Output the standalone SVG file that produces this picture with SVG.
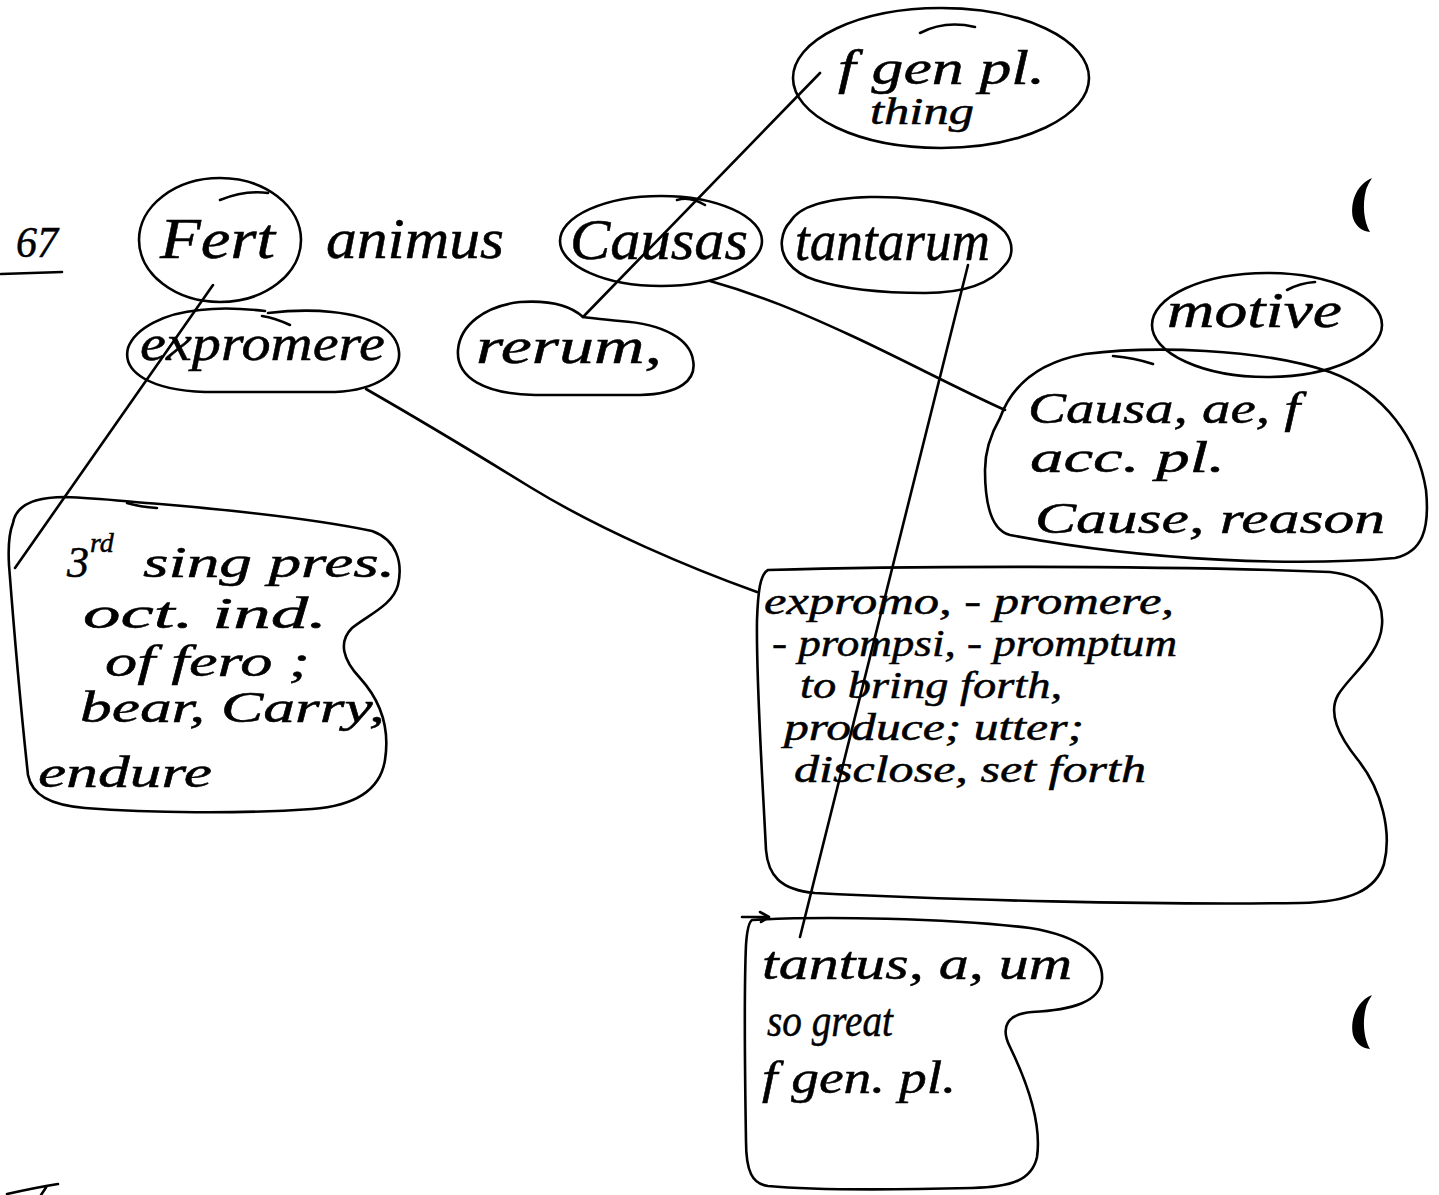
<svg xmlns="http://www.w3.org/2000/svg" width="1439" height="1195" viewBox="0 0 1439 1195">
<style>
.s{fill:none;stroke:#000;stroke-width:2.6;stroke-linecap:round;stroke-linejoin:round}
.t{font-family:"Liberation Serif","DejaVu Serif",serif;font-style:italic;fill:#000;stroke:#000;stroke-width:0.5}
.w{font-size:56px}
.b{font-size:44px}
.e{font-size:37px}
</style>
<rect width="1439" height="1195" fill="#fff"/>
<g id="connectors">
<path class="s" d="M213,285 L15,568"/>
<path class="s" d="M583,317 L820,73"/>
<path class="s" d="M710,281 C760,295 800,312 850,335 C900,358 960,390 1005,410"/>
<path class="s" d="M366,389 C420,420 470,450 530,487 C600,530 690,568 757,592"/>
<path class="s" d="M968,265 L800,937"/>
</g>
<g id="n-67">
<text class="t" x="16" y="257" font-size="44" textLength="42" lengthAdjust="spacingAndGlyphs">67</text>
<path class="s" d="M1,274 L62,272"/>
</g>
<g id="n-fert">
<ellipse class="s" cx="220" cy="240" rx="81" ry="62"/>
<path class="s" d="M220,200 Q245,190 268,193"/>
<text class="t w" x="160" y="258" textLength="115" lengthAdjust="spacingAndGlyphs">Fert</text>
</g>
<g id="n-animus">
<text class="t w" x="326" y="258" textLength="178" lengthAdjust="spacingAndGlyphs">animus</text>
</g>
<g id="n-causas">
<ellipse class="s" cx="661" cy="241" rx="101" ry="45"/>
<path class="s" d="M677,200 Q690,196 705,205"/>
<text class="t w" x="570" y="259" textLength="178" lengthAdjust="spacingAndGlyphs">Causas</text>
</g>
<g id="n-tantarum">
<path class="s" d="M790,222 C800,205 830,198 870,197 C930,196 985,210 1005,232 C1015,245 1012,258 1005,265 C990,285 960,293 925,293 C880,293 840,288 815,280 C790,272 780,255 782,240 C783,232 786,226 790,222 Z"/>
<text class="t w" x="795" y="260" textLength="195" lengthAdjust="spacingAndGlyphs">tantarum</text>
</g>
<g id="n-genpl">
<ellipse class="s" cx="941" cy="78" rx="148" ry="70"/>
<path class="s" d="M920,33 Q945,20 975,27"/>
<text class="t" x="838" y="84" font-size="48" textLength="207" lengthAdjust="spacingAndGlyphs">f gen pl.</text>
<text class="t" x="870" y="124" font-size="38" textLength="104" lengthAdjust="spacingAndGlyphs">thing</text>
</g>
<g id="n-expromere">
<path class="s" d="M265,311 C240,308 215,308 200,310 C165,313 135,328 128,348 C122,372 150,390 205,392 L335,392 C378,390 401,372 399,352 C397,330 372,316 332,312 C305,309 285,311 268,313"/>
<path class="s" d="M262,316 Q275,318 290,325"/>
<text class="t" x="140" y="360" font-size="50" textLength="245" lengthAdjust="spacingAndGlyphs">expromere</text>
</g>
<g id="n-rerum">
<path class="s" d="M583,317 C570,305 550,300 520,302 C485,306 460,325 458,350 C456,378 485,394 535,395 L640,395 C680,394 697,380 693,360 C690,340 665,324 620,321 C605,320 592,318 583,317 Z"/>
<text class="t" x="476" y="363" font-size="50" textLength="186" lengthAdjust="spacingAndGlyphs">rerum,</text>
</g>
<g id="n-motive">
<ellipse class="s" cx="1267" cy="325" rx="115" ry="52"/>
<path class="s" d="M1287,290 Q1300,283 1315,282"/>
<text class="t" x="1167" y="327" font-size="50" textLength="175" lengthAdjust="spacingAndGlyphs">motive</text>
</g>
<g id="n-causa">
<path class="s" d="M1000,418 C1012,385 1040,362 1085,354 C1150,346 1260,348 1330,372 C1385,392 1418,440 1426,490 C1430,530 1422,552 1395,558 C1300,566 1150,562 1010,535 C990,530 985,500 985,470 C985,450 992,432 1000,418 Z"/>
<path class="s" d="M1113,356 Q1135,358 1153,364"/>
<text class="t b" x="1028" y="423" textLength="272" lengthAdjust="spacingAndGlyphs">Causa, ae, f</text>
<text class="t b" x="1030" y="472" textLength="195" lengthAdjust="spacingAndGlyphs">acc. pl.</text>
<text class="t b" x="1035" y="533" textLength="350" lengthAdjust="spacingAndGlyphs">Cause, reason</text>
</g>
<g id="n-fero">
<path class="s" d="M13,523 C16,505 35,497 65,497 C100,498 130,502 160,504 C230,510 320,520 372,531 C397,540 403,563 398,585 C393,605 368,615 352,628 C338,642 343,660 360,678 C380,700 390,728 385,760 C380,792 352,806 312,809 C240,814 150,813 85,808 C50,805 32,795 28,775 C22,720 14,630 9,565 C8,547 9,533 13,523 Z"/>
<path class="s" d="M127,503 Q140,507 157,508"/>
<text class="t b" y="577"><tspan x="67">3</tspan><tspan x="90" y="552" font-size="28">rd</tspan><tspan x="143" y="577" textLength="252" lengthAdjust="spacingAndGlyphs">sing pres.</tspan></text>
<text class="t b" x="83" y="628" textLength="244" lengthAdjust="spacingAndGlyphs">oct. ind.</text>
<text class="t b" x="105" y="676" textLength="205" lengthAdjust="spacingAndGlyphs">of fero ;</text>
<text class="t b" x="80" y="722" textLength="305" lengthAdjust="spacingAndGlyphs">bear, Carry,</text>
<text class="t b" x="38" y="787" textLength="174" lengthAdjust="spacingAndGlyphs">endure</text>
</g>
<g id="n-expromo">
<path class="s" d="M768,570 C900,566 1150,565 1330,572 C1368,576 1384,598 1382,625 C1380,655 1350,675 1338,695 C1328,713 1338,735 1358,760 C1382,790 1392,832 1384,864 C1376,890 1350,902 1300,903 C1150,905 950,900 815,893 C780,890 768,875 766,850 C762,770 756,680 757,620 C758,592 760,574 768,570 Z"/>
<text class="t e" x="764" y="614" textLength="410" lengthAdjust="spacingAndGlyphs">expromo, - promere,</text>
<text class="t e" x="772" y="656" textLength="405" lengthAdjust="spacingAndGlyphs">- prompsi, - promptum</text>
<text class="t e" x="800" y="698" textLength="262" lengthAdjust="spacingAndGlyphs">to bring forth,</text>
<text class="t e" x="784" y="740" textLength="300" lengthAdjust="spacingAndGlyphs">produce; utter;</text>
<text class="t e" x="794" y="782" textLength="352" lengthAdjust="spacingAndGlyphs">disclose, set forth</text>
</g>
<g id="n-tantus">
<path class="s" d="M752,920 C820,916 950,918 1030,928 C1080,936 1104,956 1102,980 C1100,1002 1072,1010 1032,1012 C1007,1014 1000,1027 1010,1047 C1027,1082 1042,1122 1037,1157 C1032,1180 1012,1187 972,1188 C890,1190 810,1190 768,1186 C752,1184 746,1171 746,1141 C745,1080 744,990 746,945 C747,930 749,922 752,920 Z"/>
<path class="s" d="M742,917 L768,917 M760,912 L769,917 L761,922"/>
<text class="t" x="762" y="979" font-size="46" textLength="310" lengthAdjust="spacingAndGlyphs">tantus, a, um</text>
<text class="t" x="767" y="1036" font-size="46" textLength="126" lengthAdjust="spacingAndGlyphs">so great</text>
<text class="t" x="762" y="1093" font-size="46" textLength="194" lengthAdjust="spacingAndGlyphs">f gen. pl.</text>
</g>
<g id="marks">
<path d="M1372,178 C1355,185 1350,205 1353,218 C1356,227 1362,231 1370,232 C1364,222 1362,205 1366,190 C1368,184 1371,180 1372,178 Z" fill="#000"/>
<path d="M1372,995 C1355,1002 1350,1022 1353,1035 C1356,1044 1362,1048 1370,1049 C1364,1039 1362,1022 1366,1007 C1368,1001 1371,997 1372,995 Z" fill="#000"/>
<path class="s" d="M7,1194 C25,1190 45,1186 58,1184 M47,1186 L41,1195"/>
</g>
</svg>
